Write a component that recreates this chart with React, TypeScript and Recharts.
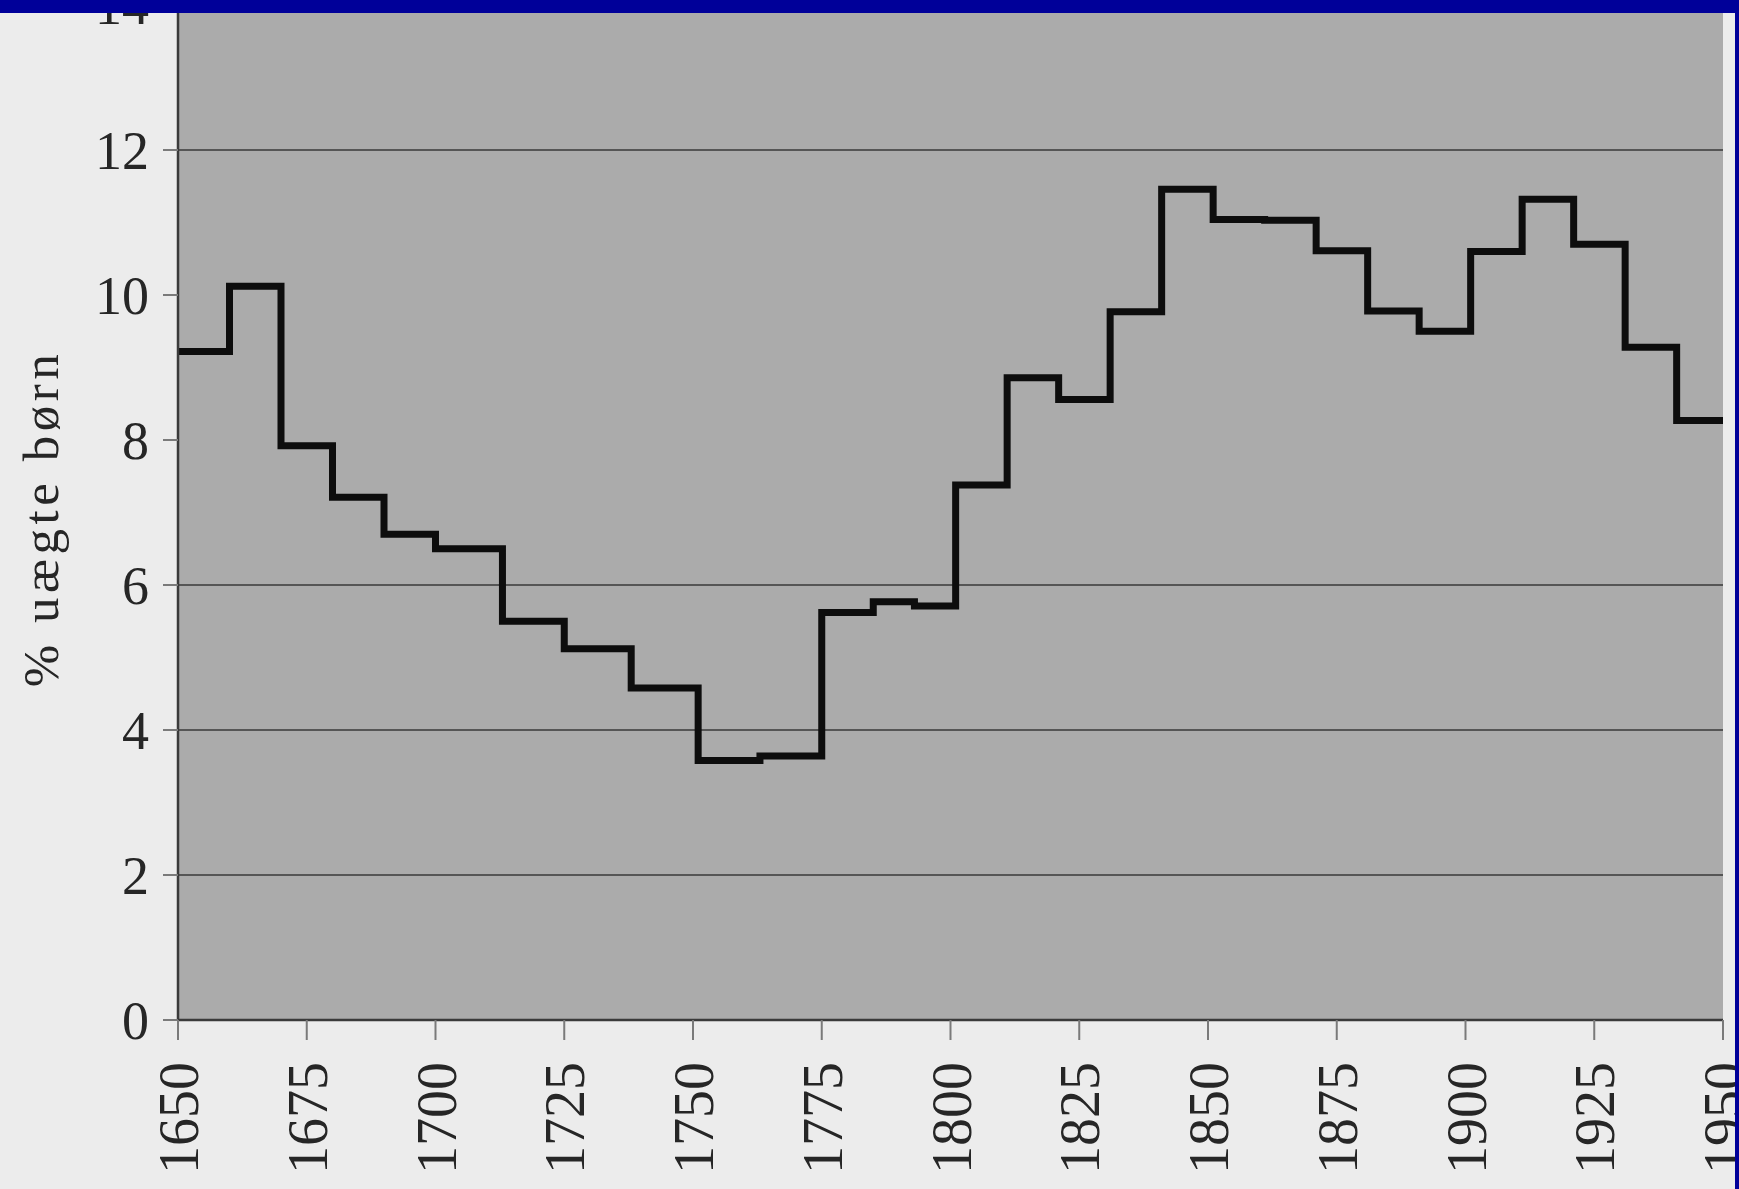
import React from 'react';
import {
  LineChart, Line, XAxis, YAxis, CartesianGrid, ReferenceLine
} from 'recharts';

// start year of each period and share of illegitimate births (%)
const years = [
  1650, 1660, 1670, 1680, 1690, 1700, 1713, 1725, 1738, 1751,
  1763, 1775, 1785, 1793, 1801, 1811, 1821, 1831, 1841, 1851,
  1861, 1871, 1881, 1891, 1901, 1911, 1921, 1931, 1941, 1950,
];
const pct = [
  9.22, 10.12, 7.92, 7.21, 6.7, 6.5, 5.5, 5.12, 4.58, 3.58,
  3.64, 5.62, 5.77, 5.71, 7.38, 8.86, 8.56, 9.77, 11.46, 11.04,
  11.03, 10.61, 9.78, 9.5, 10.6, 11.32, 10.7, 9.28, 8.27, 8.27,
];

const xTicks = [1650, 1675, 1700, 1725, 1750, 1775, 1800, 1825, 1850, 1875, 1900, 1925, 1950];
const yTicks = [0, 2, 4, 6, 8, 10, 12, 14];
const gridValues = [2, 4, 6, 12];

const yLabel = '% uægte børn';

const data = years.map((year, i) => ({ year, pct: pct[i] }));

const FONT = '"Liberation Serif", "DejaVu Serif", serif';

const XTick = (props: any) => {
  const { x, y, payload } = props;
  return (
    <text
      x={x}
      y={y}
      transform={`rotate(-90, ${x}, ${y})`}
      textAnchor="end"
      dy="0.36em"
      fontFamily={FONT}
      fontSize={56}
      fill="#262626"
    >
      {payload.value}
    </text>
  );
};

const YTitle = (props: any) => {
  const { viewBox } = props;
  const cx = viewBox.x + 43;
  const cy = viewBox.y + viewBox.height / 2 + 6;
  return (
    <text
      x={cx}
      y={cy}
      transform={`rotate(-90, ${cx}, ${cy})`}
      textAnchor="middle"
      dy="0.3em"
      fontFamily={FONT}
      fontSize={51}
      letterSpacing={4.5}
      fill="#262626"
    >
      {yLabel}
    </text>
  );
};

export default function App() {
  return (
    <div style={{ position: 'absolute', left: 0, top: 0, width: 1739, height: 1189, background: '#ececec', overflow: 'hidden' }}>
      <LineChart width={1739} height={1189} data={data} margin={{ top: 5, right: 16, bottom: 0, left: 0 }}>
        <CartesianGrid fill="#ababab" horizontal={false} vertical={false} />
        {gridValues.map((v) => (
          <ReferenceLine key={v} y={v} stroke="#555555" strokeWidth={2} ifOverflow="extendDomain" />
        ))}
        <XAxis
          dataKey="year"
          type="number"
          domain={[1650, 1950]}
          ticks={xTicks}
          interval={0}
          height={169}
          tickSize={20}
          tickMargin={22}
          stroke="#3a3a3a"
          strokeWidth={2.5}
          tickLine={{ stroke: '#7a7a7a', strokeWidth: 2 }}
          tick={<XTick />}
          allowDataOverflow
        />
        <YAxis
          type="number"
          domain={[0, 14]}
          ticks={yTicks}
          interval={0}
          width={178}
          tickSize={15}
          tickMargin={14}
          stroke="#3a3a3a"
          strokeWidth={2.5}
          tickLine={{ stroke: '#7a7a7a', strokeWidth: 2 }}
          tick={{ fontFamily: FONT, fontSize: 54, fill: '#262626' }}
          label={{ content: YTitle }}
        />
        <Line
          type="stepAfter"
          dataKey="pct"
          stroke="#0d0d0d"
          strokeWidth={7}
          dot={false}
          isAnimationActive={false}
          strokeLinejoin="miter"
          strokeLinecap="square"
        />
      </LineChart>
      <div style={{ position: 'absolute', left: 0, top: 0, width: 1739, height: 13, background: '#000099' }} />
      <div style={{ position: 'absolute', left: 1735, top: 0, width: 4, height: 1189, background: '#000099' }} />
    </div>
  );
}
